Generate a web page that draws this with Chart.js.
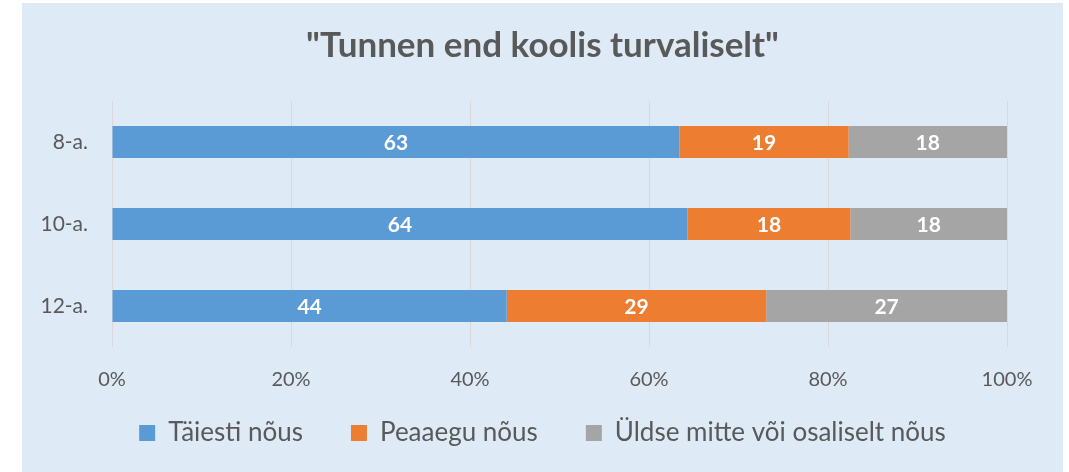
<!DOCTYPE html>
<html><head><meta charset="utf-8">
<script src="https://cdn.jsdelivr.net/npm/chart.js@4.4.1/dist/chart.umd.min.js"></script>
<style>
html,body{margin:0;padding:0;background:#fff;width:1069px;height:472px;overflow:hidden}
#panel{position:absolute;left:22px;top:3px;width:1041px;height:469px;background:#DEEAF6}
</style></head><body>
<div id="panel"><canvas id="c" width="1041" height="469"></canvas></div>
<script>
const titleText = '"Tunnen end koolis turvaliselt"';
const categories = ['8-a.', '10-a.', '12-a.'];
const seriesNames = ['Täiesti nõus', 'Peaaegu nõus', 'Üldse mitte või osaliselt nõus'];
const taiesti = [63.4, 64.3, 44.1];
const peaaegu = [18.9, 18.2, 29.0];
const yldse = [17.7, 17.5, 26.9];
const tickLabels = ['0%', '20%', '40%', '60%', '80%', '100%'];
const colors = ['#5B9BD5', '#ED7D31', '#A5A5A5'];
const FONT = 'Lato, "Open Sans", sans-serif';
const TXT = '#595959';

const labelPlugin = {
  id: 'barLabels',
  afterDatasetsDraw(chart) {
    const ctx = chart.ctx;
    ctx.save();
    ctx.font = 'bold 21px ' + FONT;
    ctx.fillStyle = '#fff';
    ctx.textAlign = 'center';
    ctx.textBaseline = 'middle';
    chart.data.datasets.forEach((ds, i) => {
      chart.getDatasetMeta(i).data.forEach((bar, j) => {
        const cx = (bar.x + bar.base) / 2;
        ctx.fillText(String(Math.round(ds.data[j])), cx, bar.y + 1);
      });
    });
    ctx.restore();
  }
};

const legendShift = {
  id: 'legendShift',
  afterLayout(chart) {
    if (chart.legend) { chart.legend.top -= 20; chart.legend.bottom -= 20; }
  }
};

new Chart(document.getElementById('c'), {
  type: 'bar',
  data: {
    labels: categories,
    datasets: [
      { label: seriesNames[0], data: taiesti, backgroundColor: colors[0] },
      { label: seriesNames[1], data: peaaegu, backgroundColor: colors[1] },
      { label: seriesNames[2], data: yldse, backgroundColor: colors[2] }
    ]
  },
  options: {
    indexAxis: 'y',
    responsive: false,
    animation: false,
    devicePixelRatio: 1,
    datasets: { bar: { barPercentage: 0.39, categoryPercentage: 1.0 } },
    layout: { padding: { left: 0, right: 0, top: 0, bottom: 0 } },
    plugins: {
      title: {
        display: true, text: titleText, color: TXT,
        font: { family: FONT, size: 35, weight: 'bold', lineHeight: 1.2 },
        padding: { top: 22, bottom: 34 }
      },
      legend: {
        position: 'bottom',
        maxHeight: 80,
        labels: {
          color: TXT, font: { family: FONT, size: 26 },
          boxWidth: 16, boxHeight: 16, padding: 48
        }
      },
      tooltip: { enabled: false }
    },
    scales: {
      x: {
        stacked: true, min: 0, max: 100,
        grid: { color: '#D9D9D9', lineWidth: 1, drawTicks: false },
        border: { display: false },
        ticks: {
          stepSize: 20, padding: 21, color: TXT,
          font: { family: FONT, size: 20 },
          callback: (v, i) => tickLabels[i]
        },
        afterFit: s => { s.height = 45; }
      },
      y: {
        stacked: true,
        grid: { display: false, drawTicks: false },
        border: { display: false },
        ticks: { padding: 24, color: TXT, font: { family: FONT, size: 21 } },
        afterFit: s => { s.width = 90; }
      },
      yRight: {
        type: 'category', position: 'right',
        grid: { display: false, drawTicks: false },
        border: { display: false },
        ticks: { display: false },
        afterFit: s => { s.width = 56; }
      }
    }
  },
  plugins: [labelPlugin, legendShift]
});
</script></body></html>
